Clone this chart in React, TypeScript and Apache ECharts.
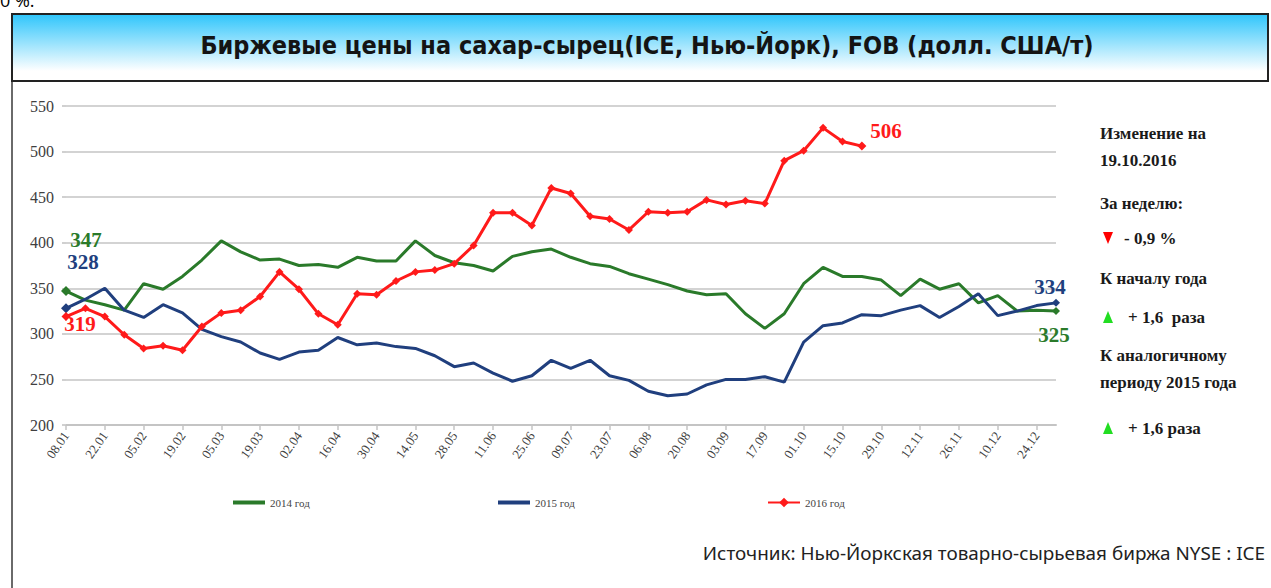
import React, { useEffect, useRef } from "react";
import * as echarts from "echarts";

const categories = [
  "08.01", "15.01", "22.01", "29.01", "05.02", "12.02", "19.02", "26.02",
  "05.03", "12.03", "19.03", "26.03", "02.04", "09.04", "16.04", "23.04",
  "30.04", "07.05", "14.05", "21.05", "28.05", "04.06", "11.06", "18.06",
  "25.06", "02.07", "09.07", "16.07", "23.07", "30.07", "06.08", "13.08",
  "20.08", "27.08", "03.09", "10.09", "17.09", "24.09", "01.10", "08.10",
  "15.10", "22.10", "29.10", "05.11", "12.11", "19.11", "26.11", "03.12",
  "10.12", "17.12", "24.12", "31.12",
];

const values2014 = [
  347, 337, 332, 326, 355, 349, 363, 381, 402, 390, 381, 382, 375, 376, 373, 384,
  380, 380, 402, 386, 378, 375, 369, 385, 390, 393, 384, 377, 374, 366, 360, 354,
  347, 343, 344, 322, 306, 322, 355, 373, 363, 363, 359, 342, 360, 349, 355, 334,
  342, 325, 326, 325,
];

const values2015 = [
  328, 338, 350, 326, 318, 332, 323, 305, 297, 291, 279, 272, 280, 282, 296, 288,
  290, 286, 284, 276, 264, 268, 257, 248, 254, 271, 262, 271, 254, 249, 237, 232,
  234, 244, 250, 250, 253, 247, 291, 309, 312, 321, 320, 326, 331, 318, 330, 344,
  320, 325, 331, 334,
];

const values2016 = [
  319, 328, 319, 299, 284, 287, 282, 308, 323, 326, 341, 368, 349, 322, 310, 344,
  343, 358, 368, 370, 377, 397, 433, 433, 419, 460, 454, 429, 426, 414, 434, 433,
  434, 447, 442, 446, 443, 490, 501, 526, 511, 506,
];

const seriesNames = ["2014 год", "2015 год", "2016 год"];
const yMin = 200;
const yMax = 550;
const yStep = 50;

const titleText = "Биржевые цены на сахар-сырец(ICE, Нью-Йорк), FOB (долл. США/т)";
const sourceText = "Источник: Нью-Йоркская товарно-сырьевая биржа NYSE : ICE";
const noteLines = [
  "Изменение на",
  "19.10.2016",
  "За неделю:",
  "- 0,9 %",
  "К началу года",
  "+ 1,6  раза",
  "К аналогичному",
  "периоду 2015 года",
  "+ 1,6 раза",
];

const GREEN = "#2a7a2a";
const BLUE = "#203f7e";
const RED = "#ff1a1a";
const SERIF = '"Liberation Serif", "Times New Roman", serif';

function endLabel(v: number, color: string, offset: number[], symbolSize: number) {
  return {
    value: v,
    symbol: "diamond",
    symbolSize,
    label: {
      show: true,
      position: "inside",
      offset,
      formatter: String(v),
      color,
      fontFamily: SERIF,
      fontWeight: "bold",
      fontSize: 21,
    },
  };
}

export default function App() {
  const ref = useRef<HTMLDivElement>(null);

  useEffect(() => {
    if (!ref.current) return;
    const chart = echarts.init(ref.current, undefined, { renderer: "svg" });

    const greenData = values2014.map((v, i) => {
      if (i === 0) return endLabel(v, GREEN, [20, -51], 10);
      if (i === values2014.length - 1) return endLabel(v, GREEN, [-2, 24], 8);
      return v;
    });
    const blueData = values2015.map((v, i) => {
      if (i === 0) return endLabel(v, BLUE, [17, -46], 10);
      if (i === values2015.length - 1) return endLabel(v, BLUE, [-6, -16], 8);
      return v;
    });
    const redData = values2016.map((v, i) => {
      if (i === 0) return endLabel(v, RED, [14, 7], 9);
      if (i === values2016.length - 1) return endLabel(v, RED, [24, -15], 9);
      return v;
    });

    const noteY = [133, 160, 203, 238, 278, 317, 355, 382, 428];
    const noteX = [1100, 1100, 1100, 1124, 1100, 1128, 1100, 1100, 1128];

    const graphics: any[] = [
      {
        type: "text",
        x: 0,
        y: 0,
        style: {
          text: "0 %.",
          fontSize: 18,
          fontFamily: '"Open Sans", sans-serif',
          fill: "#000",
          verticalAlign: "middle",
        },
      },
      {
        type: "rect",
        shape: { x: 12, y: 14, width: 1256, height: 67 },
        style: {
          fill: {
            type: "linear",
            x: 0,
            y: 0,
            x2: 0,
            y2: 1,
            colorStops: [
              { offset: 0, color: "#2ec5fb" },
              { offset: 0.85, color: "#ffffff" },
              { offset: 1, color: "#ffffff" },
            ],
          },
          stroke: "#222",
          lineWidth: 2,
        },
      },
      {
        type: "line",
        shape: { x1: 12, y1: 82, x2: 12, y2: 588 },
        style: { stroke: "#6a6a6a", lineWidth: 2 },
      },
      {
        type: "text",
        x: 647,
        y: 45,
        style: {
          text: titleText,
          fontSize: 25,
          fontWeight: "bold",
          fontFamily: '"DejaVu Sans Condensed", "Liberation Sans Narrow", "DejaVu Sans", sans-serif',
          fill: "#141414",
          align: "center",
          verticalAlign: "middle",
        },
      },
      {
        type: "text",
        x: 1265,
        y: 553,
        scaleX: 1.05,
        style: {
          text: sourceText,
          fontSize: 18,
          fontFamily: '"Noto Sans", sans-serif',
          fill: "#222",
          align: "right",
          verticalAlign: "middle",
        },
      },
      {
        type: "polygon",
        shape: { points: [[1103, 232], [1113, 232], [1108, 244]] },
        style: { fill: "#ff0000" },
      },
      {
        type: "polygon",
        shape: { points: [[1103, 323], [1113, 323], [1108, 311]] },
        style: { fill: "#22dd22" },
      },
      {
        type: "polygon",
        shape: { points: [[1103, 434], [1113, 434], [1108, 422]] },
        style: { fill: "#22dd22" },
      },
    ];
    noteLines.forEach((t, i) => {
      graphics.push({
        type: "text",
        x: noteX[i],
        y: noteY[i],
        style: {
          text: t,
          fontSize: 17,
          fontWeight: "bold",
          fontFamily: SERIF,
          fill: "#1a1a1a",
          verticalAlign: "middle",
        },
      });
    });

    const legendText = { fontFamily: SERIF, fontSize: 11, color: "#444" };

    chart.setOption({
      animation: false,
      backgroundColor: "#ffffff",
      grid: { left: 66, right: 215, top: 106, bottom: 163 },
      legend: [
        {
          data: [{ name: seriesNames[0], icon: "rect" }],
          left: 228,
          top: 492,
          itemWidth: 32,
          itemHeight: 4,
          textStyle: legendText,
        },
        {
          data: [{ name: seriesNames[1], icon: "rect" }],
          left: 493,
          top: 492,
          itemWidth: 32,
          itemHeight: 4,
          textStyle: legendText,
        },
        {
          data: [seriesNames[2]],
          left: 762,
          top: 492,
          itemWidth: 32,
          itemHeight: 12,
          textStyle: legendText,
        },
      ],
      xAxis: {
        type: "category",
        data: categories,
        boundaryGap: false,
        axisLine: { lineStyle: { color: "#c4c4c4", width: 2 } },
        axisTick: { show: true, interval: 1, length: 5, lineStyle: { color: "#c4c4c4", width: 1.5 } },
        axisLabel: {
          interval: 1,
          rotate: 55,
          fontFamily: SERIF,
          fontSize: 13,
          color: "#404040",
          margin: 8,
        },
      },
      yAxis: {
        type: "value",
        min: yMin,
        max: yMax,
        interval: yStep,
        axisLine: { show: false },
        axisTick: { show: true, length: 4, lineStyle: { color: "#d0d0d0", width: 2 } },
        splitLine: { lineStyle: { color: "#d3d3d3", width: 2 } },
        axisLabel: {
          fontFamily: SERIF,
          fontSize: 16,
          color: "#404040",
          margin: 12,
        },
      },
      series: [
        {
          name: seriesNames[0],
          type: "line",
          data: greenData,
          symbol: "none",
          color: GREEN,
          lineStyle: { width: 3, color: GREEN },
          itemStyle: { color: GREEN },
          z: 2,
        },
        {
          name: seriesNames[1],
          type: "line",
          data: blueData,
          symbol: "none",
          color: BLUE,
          lineStyle: { width: 3, color: BLUE },
          itemStyle: { color: BLUE },
          z: 3,
        },
        {
          name: seriesNames[2],
          type: "line",
          data: redData,
          symbol: "diamond",
          symbolSize: 8,
          color: RED,
          lineStyle: { width: 3, color: RED },
          itemStyle: { color: RED },
          z: 4,
        },
      ],
      graphic: graphics,
    });

    return () => chart.dispose();
  }, []);

  return (
    <div
      ref={ref}
      style={{ position: "fixed", left: 0, top: 0, width: 1271, height: 588 }}
    />
  );
}
